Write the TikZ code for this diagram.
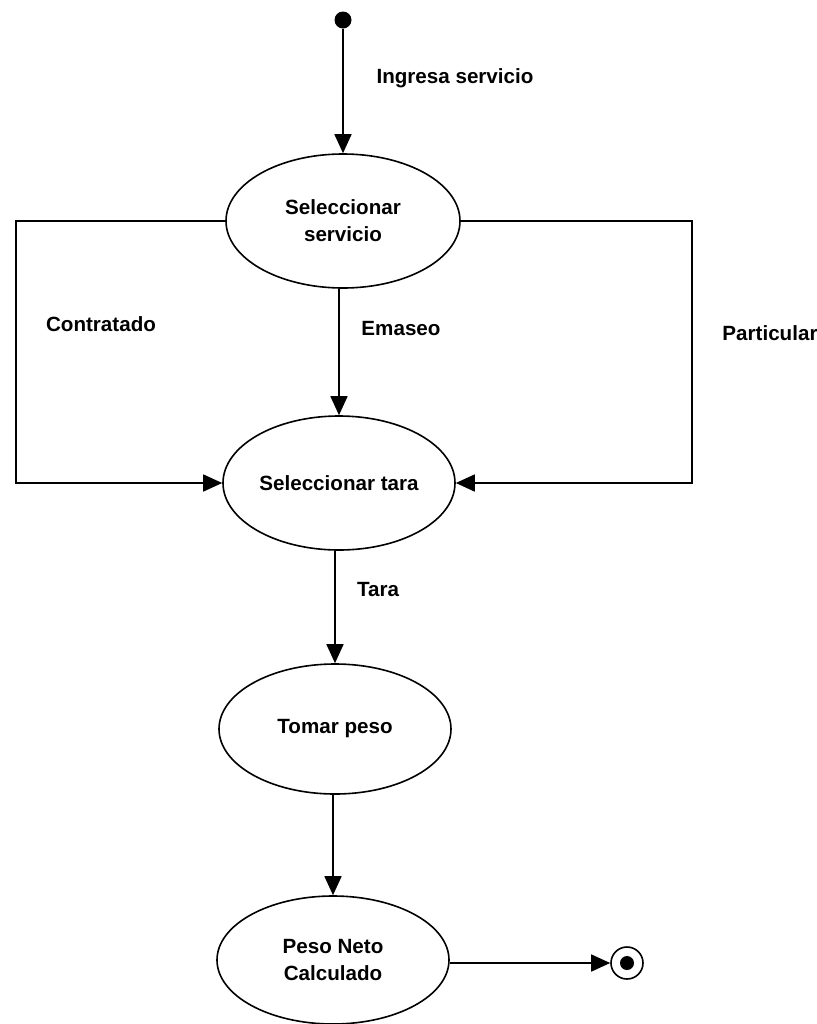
\documentclass[tikz,border=0pt]{standalone}
\usepackage{fontspec}
\setmainfont{Liberation Sans}
\usetikzlibrary{shapes.geometric,arrows.meta}
\begin{document}
\begin{tikzpicture}[x=0.5pt,y=-0.5pt,
  every node/.style={font=\bfseries\fontsize{10.3}{13.5}\selectfont},
  state/.style={draw,ellipse,line width=0.8pt,inner sep=0pt,align=center},
  lbl/.style={inner sep=0pt},
  conn/.style={line width=0.8pt,-{Triangle[length=9.5pt,width=8.5pt]}},
  plain/.style={line width=0.8pt}]
\useasboundingbox (0,0) rectangle (817,1024);
\node[circle,fill,inner sep=0pt,minimum size=8.5pt] (start) at (343,20) {};
\node[state,minimum width=117pt,minimum height=67pt] (e1) at (343,221) {Seleccionar\\servicio};
\node[state,minimum width=116pt,minimum height=67pt] (e2) at (339,483) {Seleccionar tara};
\node[state,minimum width=116pt,minimum height=65pt] (e3) at (335,729) {Tomar peso};
\node[state,minimum width=116pt,minimum height=64pt] (e4) at (333,960) {Peso Neto\\Calculado};
\node[circle,draw,line width=0.8pt,inner sep=0pt,minimum size=16pt] (end) at (627,963) {};
\node[circle,fill,inner sep=0pt,minimum size=7pt] (endin) at (end.center) {};
\coordinate (cl) at (16,300);
\coordinate (cr) at (692,300);
\draw[conn] (start) -- (e1.north);
\draw[conn] (e2.north |- e1.south) -- (e2.north);
\draw[conn] (e1.west) -| (cl) |- (e2.west);
\draw[conn] (e1.east) -| (cr) |- (e2.east);
\draw[conn] (e3.north |- e2.south) -- (e3.north);
\draw[conn] (e4.north |- e3.south) -- (e4.north);
\draw[conn] (e4.east |- end.west) -- (end.west);
\node[lbl] (l0) at (455,78) {Ingresa servicio};
\node[lbl] (l1) at (101,324) {Contratado};
\node[lbl] (l2) at (401,329) {Emaseo};
\node[lbl] (l3) at (770,333) {Particular};
\node[lbl] (l4) at (378,590) {Tara};
\end{tikzpicture}
\end{document}
